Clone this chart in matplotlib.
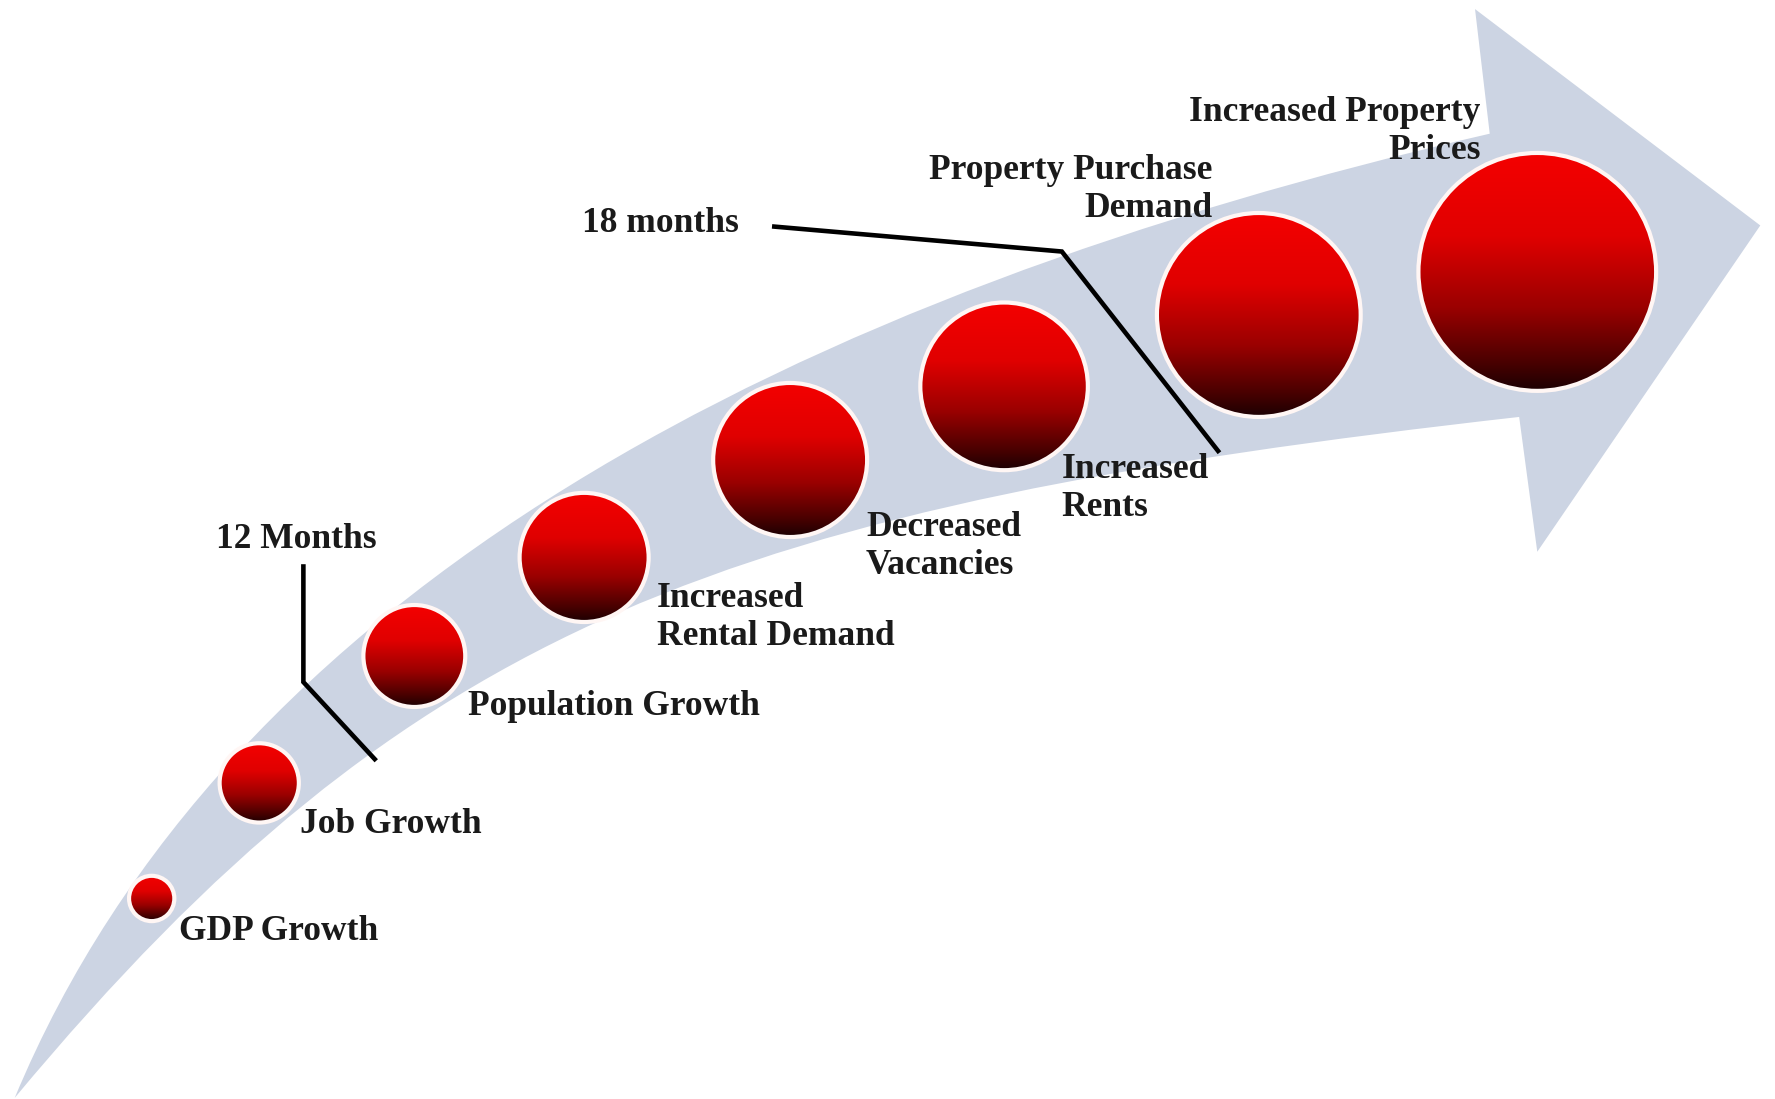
import numpy as np
import matplotlib.pyplot as plt
from matplotlib.path import Path
from matplotlib.patches import PathPatch, Circle
from matplotlib.colors import LinearSegmentedColormap

# stages along the arrow (drawing units: 1568 x 970, y grows downward)
stages = ["GDP Growth", "Job Growth", "Population Growth",
          "Increased\nRental Demand", "Decreased\nVacancies", "Increased\nRents",
          "Property Purchase\nDemand", "Increased Property\nPrices"]
circle_x = [134, 229, 366, 516, 698, 887, 1112, 1358]
circle_y = [793, 691, 579, 492, 406, 341, 278, 240]
circle_r = [20, 35, 45, 57, 68, 74, 90, 105]
label_x = [158, 265, 413, 580, 765, 938, 1071, 1308]
label_y = [822, 728, 624, 545, 482, 431, 167, 116]
label_ha = ["left"] * 6 + ["right"] * 2

# time markers
marker_text = ["12 Months", "18 months"]
marker_pos = [(262, 476), (514, 197)]
marker_ha = ["center", "left"]
marker_lines = [([268, 268, 331], [500, 602, 670]),
                ([684, 938, 1076], [200, 222, 398])]

W, H = 1568, 970
fig = plt.figure(figsize=(17.75, 10.99), dpi=100)
ax = fig.add_axes([0, 0, 1, 1])
ax.set_xlim(0, W)
ax.set_ylim(H, 0)
ax.axis("off")

# curved arrow body
verts = [(13, 969),
         (200, 520), (700, 260), (1316, 118),   # top edge
         (1303, 8), (1555, 199), (1358, 487),   # arrow head
         (1342, 368),
         (642, 447), (363, 549), (13, 969)]     # bottom edge
codes = [Path.MOVETO,
         Path.CURVE4, Path.CURVE4, Path.CURVE4,
         Path.LINETO, Path.LINETO, Path.LINETO,
         Path.LINETO,
         Path.CURVE4, Path.CURVE4, Path.CURVE4]
ax.add_patch(PathPatch(Path(verts, codes), facecolor="#ccd4e3", edgecolor="none", zorder=1))

# gradient red balls
cmap = LinearSegmentedColormap.from_list("ball", [(0.0, "#f40000"), (0.35, "#e00000"),
                                                   (0.65, "#9a0000"), (0.88, "#4a0000"),
                                                   (1.0, "#1c0003")])
grad = np.linspace(0, 1, 256).reshape(-1, 1)
for cx, cy, r in zip(circle_x, circle_y, circle_r):
    im = ax.imshow(grad, cmap=cmap, extent=(cx - r, cx + r, cy + r, cy - r),
                   aspect="auto", origin="upper", zorder=3, interpolation="bilinear")
    clip = Circle((cx, cy), r, transform=ax.transData, facecolor="none", edgecolor="none")
    im.set_clip_path(clip)
    ax.add_patch(Circle((cx, cy), r, facecolor="none", edgecolor="#fff6f4", lw=3, zorder=4))
ax.set_xlim(0, W)
ax.set_ylim(H, 0)

font = dict(family="Liberation Serif", fontweight="bold", fontsize=25.5, color="#1a1a1a")
for txt, x, y, ha in zip(stages, label_x, label_y, label_ha):
    ax.text(x, y, txt, ha=ha, va="center", multialignment=ha, linespacing=1.2, zorder=5, **font)

for txt, (x, y), ha in zip(marker_text, marker_pos, marker_ha):
    ax.text(x, y, txt, ha=ha, va="center", zorder=5, **font)
for xs, ys in marker_lines:
    ax.plot(xs, ys, color="black", lw=3.3, solid_joinstyle="miter", zorder=5)

fig.savefig("out.png", dpi=100, facecolor="white")
